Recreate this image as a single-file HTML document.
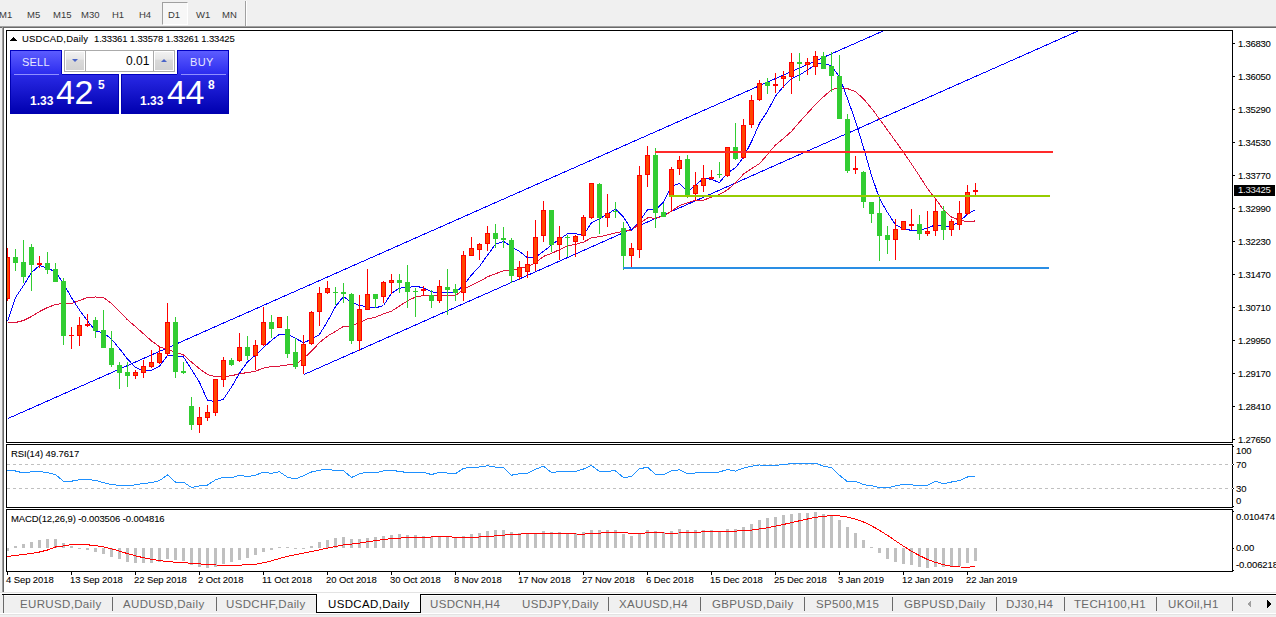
<!DOCTYPE html>
<html><head><meta charset="utf-8"><style>
html,body{margin:0;padding:0;}
body{width:1276px;height:617px;overflow:hidden;position:relative;background:#f0f0f0;font-family:"Liberation Sans",sans-serif;}
.t{position:absolute;font-size:10px;line-height:12px;white-space:nowrap;color:#000;letter-spacing:-0.3px;-webkit-text-stroke:0.08px #000}
.tb{position:absolute;top:7.5px;font-size:9.5px;letter-spacing:0.3px;letter-spacing:0px;line-height:14px;color:#3a3a3a;white-space:nowrap}
.tab{position:absolute;top:597px;font-size:11.5px;letter-spacing:0.35px;line-height:15px;color:#6a6a6a;white-space:nowrap}
.sep{position:absolute;top:597px;width:1px;height:14px;background:#6a6a6a}
</style></head><body>
<div style="position:absolute;left:162px;top:2px;width:24px;height:21px;border-left:1px solid #a0a0a0;border-top:1px solid #a0a0a0;border-right:1px solid #fff;border-bottom:1px solid #fff;background:#f7f7f7"></div><div class="tb" style="left:-1px">M1</div><div class="tb" style="left:27px">M5</div><div class="tb" style="left:53px">M15</div><div class="tb" style="left:81px">M30</div><div class="tb" style="left:112px">H1</div><div class="tb" style="left:139px">H4</div><div class="tb" style="left:168px">D1</div><div class="tb" style="left:196px">W1</div><div class="tb" style="left:222px">MN</div><div style="position:absolute;left:245px;top:1px;width:1px;height:25px;background:#a0a0a0"></div><div style="position:absolute;left:246px;top:1px;width:1px;height:25px;background:#fff"></div><div style="position:absolute;left:0;top:26px;width:1276px;height:1px;background:#a0a0a0"></div><div style="position:absolute;left:0;top:27px;width:1276px;height:1px;background:#696969"></div><div style="position:absolute;left:4px;top:28px;width:1272px;height:564px;background:#fff"></div><div style="position:absolute;left:2px;top:26px;width:1px;height:566px;background:#a0a0a0"></div><div style="position:absolute;left:3px;top:27px;width:1px;height:565px;background:#696969"></div><div style="position:absolute;left:0;top:592px;width:1276px;height:1px;background:#e3e3e3"></div><div style="position:absolute;left:0;top:593px;width:1276px;height:1px;background:#fff"></div><svg width="1276" height="617" style="position:absolute;left:0;top:0" shape-rendering="crispEdges"><rect x="6.5" y="30.5" width="1226" height="412" fill="#fff" stroke="#000" stroke-width="1"/><rect x="6.5" y="444.5" width="1226" height="63" fill="#fff" stroke="#000" stroke-width="1"/><rect x="6.5" y="509.5" width="1226" height="62" fill="#fff" stroke="#000" stroke-width="1"/><clipPath id="cm"><rect x="7" y="31" width="1225" height="411"/></clipPath><clipPath id="cr"><rect x="7" y="445" width="1225" height="62"/></clipPath><clipPath id="cd"><rect x="7" y="510" width="1225" height="61"/></clipPath><g clip-path="url(#cm)"><line x1="8" y1="418.5" x2="883" y2="31" stroke="#0000ff" stroke-width="1"/><line x1="304" y1="374.5" x2="1078" y2="31" stroke="#0000ff" stroke-width="1"/><polyline fill="none" stroke="#dc143c" stroke-width="1" points="7.5,322.5 15.5,322.5 23.5,320.5 31.5,316.5 39.5,311.5 47.5,307.5 55.5,304.5 63.5,303.5 71.5,303.5 79.5,300.5 87.5,297.5 95.5,297 103.5,297.5 111.5,303.4 119.5,311.7 127.5,319.8 135.5,326.6 143.5,333.8 151.5,340.9 159.5,346.8 167.5,349.6 175.5,352.2 183.5,354.9 191.5,362.1 199.5,368.7 207.5,374.5 215.5,376.7 223.5,376.4 231.5,375.8 239.5,373.7 247.5,372.6 255.5,371.1 263.5,368.2 271.5,366.5 279.5,366.1 287.5,364.9 295.5,364.4 303.5,358.6 311.5,351.1 319.5,342.6 327.5,336.1 335.5,331.4 343.5,326.3 351.5,325.9 359.5,322.5 367.5,318.9 375.5,317.2 383.5,313.9 391.5,311.2 399.5,306.1 407.5,300.8 415.5,297.1 423.5,295.4 431.5,296 439.5,295.9 447.5,295.6 455.5,295.6 463.5,289.4 471.5,285.1 479.5,281.5 487.5,276.8 495.5,273.7 503.5,270.9 511.5,270.4 519.5,268.6 527.5,266.6 535.5,262.9 543.5,256.4 551.5,253.4 559.5,249.6 567.5,245.7 575.5,244.4 583.5,242.1 591.5,237.8 599.5,236.7 607.5,234.9 615.5,232.9 623.5,231.4 631.5,230.1 639.5,223.7 647.5,217.9 655.5,218.1 663.5,216.1 671.5,211.2 679.5,205.6 687.5,202.7 695.5,200.4 703.5,200.1 711.5,197.1 719.5,194.4 727.5,189.8 735.5,182.9 743.5,174.1 751.5,168.7 759.5,163.6 767.5,154.5 775.5,145 783.5,138.4 791.5,131.4 799.5,122 807.5,113.2 815.5,104.5 823.5,96.8 831.5,89.7 839.5,87.7 847.5,88.6 855.5,91.6 863.5,98.9 871.5,108.3 879.5,119 887.5,130.1 895.5,141.1 903.5,152.4 911.5,163.9 919.5,176.1 927.5,188.6 935.5,198.8 943.5,209.8 951.5,217.1 959.5,220.1 967.5,221.8 975.5,220.9"/><polyline fill="none" stroke="#0000ff" stroke-width="1" points="7.5,321.5 15.5,297.5 23.5,285.5 31.5,272.5 39.5,265.5 47.5,268.1 55.5,271.9 63.5,283.7 71.5,297.7 79.5,310.1 87.5,320.9 95.5,330.7 103.5,333.1 111.5,339.1 119.5,348.7 127.5,359.1 135.5,367.3 143.5,370.9 151.5,370.3 159.5,366.3 167.5,355.5 175.5,355.5 183.5,356.9 191.5,369.5 199.5,382.3 207.5,400.3 215.5,401.7 223.5,399.1 231.5,387.1 239.5,373.1 247.5,361.9 255.5,355.1 263.5,347.5 271.5,340.3 279.5,334.3 287.5,333.9 295.5,338.3 303.5,342.7 311.5,339.3 319.5,334.5 327.5,321.3 335.5,306.5 343.5,296.5 351.5,302.3 359.5,305.5 367.5,306.7 375.5,307.9 383.5,305.5 391.5,293.3 399.5,288.1 407.5,287.7 415.5,286.3 423.5,287.7 431.5,291.9 439.5,292.5 447.5,292.1 455.5,292.3 463.5,285.5 471.5,274.9 479.5,266.5 487.5,255.1 495.5,244.3 503.5,241.3 511.5,246.9 519.5,251.5 527.5,257.7 535.5,257.3 543.5,251.3 551.5,245.1 559.5,239.1 567.5,233.9 575.5,233.7 583.5,235.1 591.5,222.7 599.5,218.9 607.5,213.9 615.5,209.1 623.5,216.9 631.5,229.9 639.5,221.3 647.5,209.7 655.5,209.9 663.5,202.1 671.5,186.3 679.5,183.3 687.5,191.3 695.5,185.7 703.5,177.9 711.5,179.5 719.5,182.5 727.5,172.9 735.5,167.7 743.5,157.1 751.5,141.7 759.5,123.3 767.5,111.1 775.5,96.1 783.5,86.3 791.5,78.7 799.5,74.9 807.5,70.1 815.5,64.5 823.5,63.1 831.5,65.9 839.5,76.9 847.5,98.7 855.5,121.1 863.5,147.7 871.5,175.3 879.5,198.7 887.5,212.5 895.5,224.7 903.5,228.5 911.5,230.5 919.5,230.1 927.5,228.3 935.5,224.7 943.5,226.5 951.5,225.9 959.5,221.7 967.5,213.9 975.5,209.7"/><rect x="7" y="248" width="1" height="53" fill="#ff0000"/><rect x="5" y="257" width="5" height="42" fill="#ff0000"/><rect x="6" y="258" width="3" height="40" fill="#ff4500"/><rect x="15" y="249" width="1" height="22" fill="#32cd32"/><rect x="13" y="257" width="5" height="6" fill="#32cd32"/><rect x="23" y="240" width="1" height="43" fill="#32cd32"/><rect x="21" y="262" width="5" height="15" fill="#32cd32"/><rect x="31" y="244" width="1" height="47" fill="#32cd32"/><rect x="29" y="247" width="5" height="18" fill="#32cd32"/><rect x="39" y="256" width="1" height="12" fill="#ff0000"/><rect x="37" y="263" width="5" height="2" fill="#ff0000"/><rect x="47" y="252" width="1" height="22" fill="#32cd32"/><rect x="45" y="263" width="5" height="7" fill="#32cd32"/><rect x="55" y="263" width="1" height="19" fill="#32cd32"/><rect x="53" y="269" width="5" height="13" fill="#32cd32"/><rect x="63" y="278" width="1" height="67" fill="#32cd32"/><rect x="61" y="281" width="5" height="55" fill="#32cd32"/><rect x="71" y="327" width="1" height="22" fill="#ff0000"/><rect x="69" y="335" width="5" height="1" fill="#ff0000"/><rect x="79" y="317" width="1" height="29" fill="#ff0000"/><rect x="77" y="325" width="5" height="11" fill="#ff0000"/><rect x="78" y="326" width="3" height="9" fill="#ff4500"/><rect x="87" y="314" width="1" height="13" fill="#ff0000"/><rect x="85" y="324" width="5" height="2" fill="#ff0000"/><rect x="95" y="317" width="1" height="21" fill="#32cd32"/><rect x="93" y="320" width="5" height="11" fill="#32cd32"/><rect x="103" y="310" width="1" height="38" fill="#32cd32"/><rect x="101" y="330" width="5" height="18" fill="#32cd32"/><rect x="111" y="331" width="1" height="36" fill="#32cd32"/><rect x="109" y="348" width="5" height="17" fill="#32cd32"/><rect x="119" y="362" width="1" height="27" fill="#32cd32"/><rect x="117" y="365" width="5" height="8" fill="#32cd32"/><rect x="127" y="362" width="1" height="25" fill="#32cd32"/><rect x="125" y="372" width="5" height="4" fill="#32cd32"/><rect x="135" y="370" width="1" height="9" fill="#ff0000"/><rect x="133" y="372" width="5" height="4" fill="#ff0000"/><rect x="134" y="373" width="3" height="2" fill="#ff4500"/><rect x="143" y="360" width="1" height="18" fill="#ff0000"/><rect x="141" y="366" width="5" height="7" fill="#ff0000"/><rect x="142" y="367" width="3" height="5" fill="#ff4500"/><rect x="151" y="350" width="1" height="18" fill="#ff0000"/><rect x="149" y="362" width="5" height="5" fill="#ff0000"/><rect x="150" y="363" width="3" height="3" fill="#ff4500"/><rect x="159" y="346" width="1" height="18" fill="#ff0000"/><rect x="157" y="353" width="5" height="10" fill="#ff0000"/><rect x="158" y="354" width="3" height="8" fill="#ff4500"/><rect x="167" y="303" width="1" height="53" fill="#ff0000"/><rect x="165" y="322" width="5" height="32" fill="#ff0000"/><rect x="166" y="323" width="3" height="30" fill="#ff4500"/><rect x="175" y="317" width="1" height="61" fill="#32cd32"/><rect x="173" y="322" width="5" height="50" fill="#32cd32"/><rect x="183" y="362" width="1" height="12" fill="#32cd32"/><rect x="181" y="371" width="5" height="2" fill="#32cd32"/><rect x="191" y="397" width="1" height="33" fill="#32cd32"/><rect x="189" y="406" width="5" height="19" fill="#32cd32"/><rect x="199" y="407" width="1" height="26" fill="#ff0000"/><rect x="197" y="417" width="5" height="8" fill="#ff0000"/><rect x="198" y="418" width="3" height="6" fill="#ff4500"/><rect x="207" y="405" width="1" height="16" fill="#ff0000"/><rect x="205" y="412" width="5" height="6" fill="#ff0000"/><rect x="206" y="413" width="3" height="4" fill="#ff4500"/><rect x="215" y="379" width="1" height="37" fill="#ff0000"/><rect x="213" y="379" width="5" height="34" fill="#ff0000"/><rect x="214" y="380" width="3" height="32" fill="#ff4500"/><rect x="223" y="357" width="1" height="30" fill="#ff0000"/><rect x="221" y="360" width="5" height="20" fill="#ff0000"/><rect x="222" y="361" width="3" height="18" fill="#ff4500"/><rect x="231" y="358" width="1" height="8" fill="#32cd32"/><rect x="229" y="360" width="5" height="5" fill="#32cd32"/><rect x="239" y="333" width="1" height="29" fill="#ff0000"/><rect x="237" y="347" width="5" height="14" fill="#ff0000"/><rect x="238" y="348" width="3" height="12" fill="#ff4500"/><rect x="247" y="336" width="1" height="24" fill="#32cd32"/><rect x="245" y="347" width="5" height="9" fill="#32cd32"/><rect x="255" y="340" width="1" height="30" fill="#ff0000"/><rect x="253" y="345" width="5" height="11" fill="#ff0000"/><rect x="254" y="346" width="3" height="9" fill="#ff4500"/><rect x="263" y="307" width="1" height="39" fill="#ff0000"/><rect x="261" y="322" width="5" height="23" fill="#ff0000"/><rect x="262" y="323" width="3" height="21" fill="#ff4500"/><rect x="271" y="315" width="1" height="23" fill="#32cd32"/><rect x="269" y="322" width="5" height="7" fill="#32cd32"/><rect x="279" y="317" width="1" height="11" fill="#ff0000"/><rect x="277" y="317" width="5" height="11" fill="#ff0000"/><rect x="278" y="318" width="3" height="9" fill="#ff4500"/><rect x="287" y="316" width="1" height="42" fill="#32cd32"/><rect x="285" y="329" width="5" height="25" fill="#32cd32"/><rect x="295" y="338" width="1" height="31" fill="#32cd32"/><rect x="293" y="352" width="5" height="15" fill="#32cd32"/><rect x="303" y="335" width="1" height="39" fill="#ff0000"/><rect x="301" y="344" width="5" height="22" fill="#ff0000"/><rect x="302" y="345" width="3" height="20" fill="#ff4500"/><rect x="311" y="311" width="1" height="34" fill="#ff0000"/><rect x="309" y="312" width="5" height="32" fill="#ff0000"/><rect x="310" y="313" width="3" height="30" fill="#ff4500"/><rect x="319" y="287" width="1" height="39" fill="#ff0000"/><rect x="317" y="293" width="5" height="19" fill="#ff0000"/><rect x="318" y="294" width="3" height="17" fill="#ff4500"/><rect x="327" y="281" width="1" height="13" fill="#ff0000"/><rect x="325" y="288" width="5" height="5" fill="#ff0000"/><rect x="326" y="289" width="3" height="3" fill="#ff4500"/><rect x="335" y="287" width="1" height="18" fill="#32cd32"/><rect x="333" y="292" width="5" height="1" fill="#32cd32"/><rect x="343" y="283" width="1" height="20" fill="#32cd32"/><rect x="341" y="292" width="5" height="2" fill="#32cd32"/><rect x="351" y="293" width="1" height="51" fill="#32cd32"/><rect x="349" y="294" width="5" height="47" fill="#32cd32"/><rect x="359" y="295" width="1" height="56" fill="#ff0000"/><rect x="357" y="309" width="5" height="32" fill="#ff0000"/><rect x="358" y="310" width="3" height="30" fill="#ff4500"/><rect x="367" y="269" width="1" height="41" fill="#ff0000"/><rect x="365" y="294" width="5" height="16" fill="#ff0000"/><rect x="366" y="295" width="3" height="14" fill="#ff4500"/><rect x="375" y="294" width="1" height="14" fill="#32cd32"/><rect x="373" y="294" width="5" height="5" fill="#32cd32"/><rect x="383" y="281" width="1" height="22" fill="#ff0000"/><rect x="381" y="282" width="5" height="15" fill="#ff0000"/><rect x="382" y="283" width="3" height="13" fill="#ff4500"/><rect x="391" y="274" width="1" height="20" fill="#ff0000"/><rect x="389" y="280" width="5" height="3" fill="#ff0000"/><rect x="390" y="281" width="3" height="1" fill="#ff4500"/><rect x="399" y="274" width="1" height="19" fill="#32cd32"/><rect x="397" y="280" width="5" height="3" fill="#32cd32"/><rect x="407" y="265" width="1" height="43" fill="#32cd32"/><rect x="405" y="282" width="5" height="10" fill="#32cd32"/><rect x="415" y="288" width="1" height="29" fill="#32cd32"/><rect x="413" y="291" width="5" height="1" fill="#32cd32"/><rect x="423" y="286" width="1" height="10" fill="#ff0000"/><rect x="421" y="289" width="5" height="2" fill="#ff0000"/><rect x="431" y="290" width="1" height="18" fill="#32cd32"/><rect x="429" y="295" width="5" height="6" fill="#32cd32"/><rect x="439" y="280" width="1" height="23" fill="#ff0000"/><rect x="437" y="286" width="5" height="15" fill="#ff0000"/><rect x="438" y="287" width="3" height="13" fill="#ff4500"/><rect x="447" y="269" width="1" height="46" fill="#32cd32"/><rect x="445" y="287" width="5" height="3" fill="#32cd32"/><rect x="455" y="284" width="1" height="17" fill="#32cd32"/><rect x="453" y="289" width="5" height="4" fill="#32cd32"/><rect x="463" y="251" width="1" height="50" fill="#ff0000"/><rect x="461" y="255" width="5" height="38" fill="#ff0000"/><rect x="462" y="256" width="3" height="36" fill="#ff4500"/><rect x="471" y="237" width="1" height="19" fill="#ff0000"/><rect x="469" y="248" width="5" height="8" fill="#ff0000"/><rect x="470" y="249" width="3" height="6" fill="#ff4500"/><rect x="479" y="243" width="1" height="17" fill="#ff0000"/><rect x="477" y="244" width="5" height="6" fill="#ff0000"/><rect x="478" y="245" width="3" height="4" fill="#ff4500"/><rect x="487" y="226" width="1" height="25" fill="#ff0000"/><rect x="485" y="233" width="5" height="11" fill="#ff0000"/><rect x="486" y="234" width="3" height="9" fill="#ff4500"/><rect x="495" y="224" width="1" height="24" fill="#32cd32"/><rect x="493" y="233" width="5" height="6" fill="#32cd32"/><rect x="503" y="227" width="1" height="21" fill="#32cd32"/><rect x="501" y="238" width="5" height="2" fill="#32cd32"/><rect x="511" y="238" width="1" height="45" fill="#32cd32"/><rect x="509" y="240" width="5" height="36" fill="#32cd32"/><rect x="519" y="261" width="1" height="19" fill="#ff0000"/><rect x="517" y="267" width="5" height="10" fill="#ff0000"/><rect x="518" y="268" width="3" height="8" fill="#ff4500"/><rect x="527" y="251" width="1" height="27" fill="#ff0000"/><rect x="525" y="264" width="5" height="8" fill="#ff0000"/><rect x="526" y="265" width="3" height="6" fill="#ff4500"/><rect x="535" y="220" width="1" height="51" fill="#ff0000"/><rect x="533" y="237" width="5" height="27" fill="#ff0000"/><rect x="534" y="238" width="3" height="25" fill="#ff4500"/><rect x="543" y="201" width="1" height="41" fill="#ff0000"/><rect x="541" y="210" width="5" height="26" fill="#ff0000"/><rect x="542" y="211" width="3" height="24" fill="#ff4500"/><rect x="551" y="210" width="1" height="42" fill="#32cd32"/><rect x="549" y="210" width="5" height="35" fill="#32cd32"/><rect x="559" y="226" width="1" height="34" fill="#ff0000"/><rect x="557" y="237" width="5" height="8" fill="#ff0000"/><rect x="558" y="238" width="3" height="6" fill="#ff4500"/><rect x="567" y="235" width="1" height="22" fill="#32cd32"/><rect x="565" y="237" width="5" height="1" fill="#32cd32"/><rect x="575" y="235" width="1" height="22" fill="#ff0000"/><rect x="573" y="236" width="5" height="6" fill="#ff0000"/><rect x="574" y="237" width="3" height="4" fill="#ff4500"/><rect x="583" y="215" width="1" height="25" fill="#ff0000"/><rect x="581" y="217" width="5" height="19" fill="#ff0000"/><rect x="582" y="218" width="3" height="17" fill="#ff4500"/><rect x="591" y="183" width="1" height="36" fill="#ff0000"/><rect x="589" y="183" width="5" height="35" fill="#ff0000"/><rect x="590" y="184" width="3" height="33" fill="#ff4500"/><rect x="599" y="183" width="1" height="51" fill="#32cd32"/><rect x="597" y="184" width="5" height="34" fill="#32cd32"/><rect x="607" y="194" width="1" height="33" fill="#ff0000"/><rect x="605" y="213" width="5" height="5" fill="#ff0000"/><rect x="606" y="214" width="3" height="3" fill="#ff4500"/><rect x="615" y="202" width="1" height="16" fill="#32cd32"/><rect x="613" y="211" width="5" height="1" fill="#32cd32"/><rect x="623" y="222" width="1" height="48" fill="#32cd32"/><rect x="621" y="228" width="5" height="28" fill="#32cd32"/><rect x="631" y="243" width="1" height="24" fill="#ff0000"/><rect x="629" y="248" width="5" height="8" fill="#ff0000"/><rect x="630" y="249" width="3" height="6" fill="#ff4500"/><rect x="639" y="166" width="1" height="92" fill="#ff0000"/><rect x="637" y="175" width="5" height="75" fill="#ff0000"/><rect x="638" y="176" width="3" height="73" fill="#ff4500"/><rect x="647" y="146" width="1" height="41" fill="#ff0000"/><rect x="645" y="155" width="5" height="20" fill="#ff0000"/><rect x="646" y="156" width="3" height="18" fill="#ff4500"/><rect x="655" y="148" width="1" height="80" fill="#32cd32"/><rect x="653" y="155" width="5" height="58" fill="#32cd32"/><rect x="663" y="203" width="1" height="14" fill="#32cd32"/><rect x="661" y="212" width="5" height="5" fill="#32cd32"/><rect x="671" y="167" width="1" height="44" fill="#ff0000"/><rect x="669" y="169" width="5" height="27" fill="#ff0000"/><rect x="670" y="170" width="3" height="25" fill="#ff4500"/><rect x="679" y="156" width="1" height="19" fill="#ff0000"/><rect x="677" y="160" width="5" height="9" fill="#ff0000"/><rect x="678" y="161" width="3" height="7" fill="#ff4500"/><rect x="687" y="155" width="1" height="43" fill="#32cd32"/><rect x="685" y="159" width="5" height="36" fill="#32cd32"/><rect x="695" y="172" width="1" height="29" fill="#ff0000"/><rect x="693" y="185" width="5" height="9" fill="#ff0000"/><rect x="694" y="186" width="3" height="7" fill="#ff4500"/><rect x="703" y="165" width="1" height="27" fill="#ff0000"/><rect x="701" y="178" width="5" height="8" fill="#ff0000"/><rect x="702" y="179" width="3" height="6" fill="#ff4500"/><rect x="711" y="170" width="1" height="10" fill="#ff0000"/><rect x="709" y="177" width="5" height="2" fill="#ff0000"/><rect x="719" y="162" width="1" height="16" fill="#32cd32"/><rect x="717" y="174" width="5" height="1" fill="#32cd32"/><rect x="727" y="147" width="1" height="30" fill="#ff0000"/><rect x="725" y="147" width="5" height="29" fill="#ff0000"/><rect x="726" y="148" width="3" height="27" fill="#ff4500"/><rect x="735" y="123" width="1" height="37" fill="#32cd32"/><rect x="733" y="147" width="5" height="12" fill="#32cd32"/><rect x="743" y="119" width="1" height="40" fill="#ff0000"/><rect x="741" y="125" width="5" height="33" fill="#ff0000"/><rect x="742" y="126" width="3" height="31" fill="#ff4500"/><rect x="751" y="95" width="1" height="33" fill="#ff0000"/><rect x="749" y="100" width="5" height="25" fill="#ff0000"/><rect x="750" y="101" width="3" height="23" fill="#ff4500"/><rect x="759" y="80" width="1" height="21" fill="#ff0000"/><rect x="757" y="83" width="5" height="17" fill="#ff0000"/><rect x="758" y="84" width="3" height="15" fill="#ff4500"/><rect x="767" y="78" width="1" height="16" fill="#32cd32"/><rect x="765" y="82" width="5" height="4" fill="#32cd32"/><rect x="775" y="73" width="1" height="20" fill="#ff0000"/><rect x="773" y="84" width="5" height="2" fill="#ff0000"/><rect x="783" y="71" width="1" height="17" fill="#ff0000"/><rect x="781" y="76" width="5" height="3" fill="#ff0000"/><rect x="782" y="77" width="3" height="1" fill="#ff4500"/><rect x="791" y="53" width="1" height="41" fill="#ff0000"/><rect x="789" y="62" width="5" height="15" fill="#ff0000"/><rect x="790" y="63" width="3" height="13" fill="#ff4500"/><rect x="799" y="53" width="1" height="28" fill="#32cd32"/><rect x="797" y="62" width="5" height="2" fill="#32cd32"/><rect x="807" y="58" width="1" height="17" fill="#ff0000"/><rect x="805" y="62" width="5" height="3" fill="#ff0000"/><rect x="806" y="63" width="3" height="1" fill="#ff4500"/><rect x="815" y="51" width="1" height="24" fill="#ff0000"/><rect x="813" y="56" width="5" height="11" fill="#ff0000"/><rect x="814" y="57" width="3" height="9" fill="#ff4500"/><rect x="823" y="52" width="1" height="17" fill="#32cd32"/><rect x="821" y="56" width="5" height="13" fill="#32cd32"/><rect x="831" y="52" width="1" height="40" fill="#32cd32"/><rect x="829" y="66" width="5" height="10" fill="#32cd32"/><rect x="839" y="55" width="1" height="64" fill="#32cd32"/><rect x="837" y="76" width="5" height="43" fill="#32cd32"/><rect x="847" y="114" width="1" height="59" fill="#32cd32"/><rect x="845" y="119" width="5" height="52" fill="#32cd32"/><rect x="855" y="156" width="1" height="18" fill="#ff0000"/><rect x="853" y="168" width="5" height="2" fill="#ff0000"/><rect x="863" y="171" width="1" height="37" fill="#32cd32"/><rect x="861" y="172" width="5" height="30" fill="#32cd32"/><rect x="871" y="202" width="1" height="21" fill="#32cd32"/><rect x="869" y="202" width="5" height="12" fill="#32cd32"/><rect x="879" y="198" width="1" height="63" fill="#32cd32"/><rect x="877" y="213" width="5" height="23" fill="#32cd32"/><rect x="887" y="226" width="1" height="28" fill="#32cd32"/><rect x="885" y="235" width="5" height="5" fill="#32cd32"/><rect x="895" y="219" width="1" height="41" fill="#ff0000"/><rect x="893" y="229" width="5" height="11" fill="#ff0000"/><rect x="894" y="230" width="3" height="9" fill="#ff4500"/><rect x="903" y="221" width="1" height="9" fill="#ff0000"/><rect x="901" y="221" width="5" height="9" fill="#ff0000"/><rect x="902" y="222" width="3" height="7" fill="#ff4500"/><rect x="911" y="209" width="1" height="21" fill="#ff0000"/><rect x="909" y="224" width="5" height="2" fill="#ff0000"/><rect x="919" y="215" width="1" height="25" fill="#32cd32"/><rect x="917" y="224" width="5" height="10" fill="#32cd32"/><rect x="927" y="211" width="1" height="25" fill="#ff0000"/><rect x="925" y="231" width="5" height="3" fill="#ff0000"/><rect x="926" y="232" width="3" height="1" fill="#ff4500"/><rect x="935" y="200" width="1" height="36" fill="#ff0000"/><rect x="933" y="211" width="5" height="20" fill="#ff0000"/><rect x="934" y="212" width="3" height="18" fill="#ff4500"/><rect x="943" y="206" width="1" height="34" fill="#32cd32"/><rect x="941" y="211" width="5" height="19" fill="#32cd32"/><rect x="951" y="219" width="1" height="17" fill="#ff0000"/><rect x="949" y="221" width="5" height="9" fill="#ff0000"/><rect x="950" y="222" width="3" height="7" fill="#ff4500"/><rect x="959" y="201" width="1" height="29" fill="#ff0000"/><rect x="957" y="213" width="5" height="12" fill="#ff0000"/><rect x="958" y="214" width="3" height="10" fill="#ff4500"/><rect x="967" y="185" width="1" height="30" fill="#ff0000"/><rect x="965" y="192" width="5" height="22" fill="#ff0000"/><rect x="966" y="193" width="3" height="20" fill="#ff4500"/><rect x="975" y="183" width="1" height="14" fill="#ff0000"/><rect x="973" y="190" width="5" height="2" fill="#ff0000"/><rect x="655" y="151" width="398" height="2" fill="#ff2a2a"/><rect x="669" y="195" width="381" height="2" fill="#96cc00"/><rect x="623" y="267" width="426" height="2" fill="#2a8ee4"/></g><g clip-path="url(#cr)"><line x1="7" y1="464.5" x2="1232" y2="464.5" stroke="#c0c0c0" stroke-dasharray="3,3"/><line x1="7" y1="488.5" x2="1232" y2="488.5" stroke="#c0c0c0" stroke-dasharray="3,3"/><polyline fill="none" stroke="#1e90ff" stroke-width="1" points="7.5,470.2 15.5,471 23.5,473 31.5,471.7 39.5,471.5 47.5,472.6 55.5,474.5 63.5,481.3 71.5,481.2 79.5,479.7 87.5,479.5 95.5,480.4 103.5,482.6 111.5,484.5 119.5,485.4 127.5,485.7 135.5,484.8 143.5,483.5 151.5,482.6 159.5,480.6 167.5,474.9 175.5,482.1 183.5,482.2 191.5,487.4 199.5,486 207.5,485.1 215.5,479.8 223.5,477.1 231.5,477.8 239.5,475.3 247.5,476.6 255.5,475.1 263.5,472.2 271.5,473.3 279.5,471.8 287.5,477.2 295.5,478.9 303.5,475.7 311.5,472 319.5,470.1 327.5,469.6 335.5,470.4 343.5,470.6 351.5,477.5 359.5,473.7 367.5,472.1 375.5,472.8 383.5,470.9 391.5,470.7 399.5,471.2 407.5,472.8 415.5,472.8 423.5,472.3 431.5,474.6 439.5,472.3 447.5,473.1 455.5,473.7 463.5,468.3 471.5,467.4 479.5,467 487.5,465.7 495.5,467.1 503.5,467.4 511.5,475.2 519.5,473.7 527.5,473.2 535.5,469.3 543.5,466.1 551.5,472.6 559.5,471.6 567.5,471.8 575.5,471.5 583.5,469 591.5,465.4 599.5,471.6 607.5,471.1 615.5,470.9 623.5,477.6 631.5,476.5 639.5,468.8 647.5,467.2 655.5,474.3 663.5,474.7 671.5,470.6 679.5,469.9 687.5,473.8 695.5,473 703.5,472.3 711.5,472.2 719.5,472 727.5,469.4 735.5,471.1 743.5,468.1 751.5,466.2 759.5,465 767.5,465.4 775.5,465.3 783.5,464.6 791.5,463.5 799.5,463.9 807.5,463.8 815.5,463.2 823.5,466.1 831.5,467.6 839.5,475.3 847.5,481.7 855.5,481.3 863.5,484.6 871.5,485.7 879.5,487.5 887.5,487.8 895.5,485.8 903.5,484.4 911.5,484.8 919.5,485.8 927.5,485.2 935.5,481.3 943.5,483.7 951.5,482 959.5,480.5 967.5,477 975.5,476.7"/></g><g clip-path="url(#cd)"><rect x="6" y="548" width="3" height="3" fill="#c0c0c0"/><rect x="14" y="546" width="3" height="2" fill="#c0c0c0"/><rect x="22" y="544" width="3" height="4" fill="#c0c0c0"/><rect x="30" y="542" width="3" height="6" fill="#c0c0c0"/><rect x="38" y="540" width="3" height="8" fill="#c0c0c0"/><rect x="46" y="539" width="3" height="9" fill="#c0c0c0"/><rect x="54" y="539" width="3" height="9" fill="#c0c0c0"/><rect x="62" y="543" width="3" height="5" fill="#c0c0c0"/><rect x="70" y="546" width="3" height="2" fill="#c0c0c0"/><rect x="78" y="548" width="3" height="1" fill="#c0c0c0"/><rect x="86" y="548" width="3" height="2" fill="#c0c0c0"/><rect x="94" y="548" width="3" height="4" fill="#c0c0c0"/><rect x="102" y="548" width="3" height="6" fill="#c0c0c0"/><rect x="110" y="548" width="3" height="9" fill="#c0c0c0"/><rect x="118" y="548" width="3" height="11" fill="#c0c0c0"/><rect x="126" y="548" width="3" height="14" fill="#c0c0c0"/><rect x="134" y="548" width="3" height="15" fill="#c0c0c0"/><rect x="142" y="548" width="3" height="15" fill="#c0c0c0"/><rect x="150" y="548" width="3" height="15" fill="#c0c0c0"/><rect x="158" y="548" width="3" height="14" fill="#c0c0c0"/><rect x="166" y="548" width="3" height="11" fill="#c0c0c0"/><rect x="174" y="548" width="3" height="12" fill="#c0c0c0"/><rect x="182" y="548" width="3" height="13" fill="#c0c0c0"/><rect x="190" y="548" width="3" height="17" fill="#c0c0c0"/><rect x="198" y="548" width="3" height="19" fill="#c0c0c0"/><rect x="206" y="548" width="3" height="20" fill="#c0c0c0"/><rect x="214" y="548" width="3" height="19" fill="#c0c0c0"/><rect x="222" y="548" width="3" height="16" fill="#c0c0c0"/><rect x="230" y="548" width="3" height="14" fill="#c0c0c0"/><rect x="238" y="548" width="3" height="12" fill="#c0c0c0"/><rect x="246" y="548" width="3" height="10" fill="#c0c0c0"/><rect x="254" y="548" width="3" height="7" fill="#c0c0c0"/><rect x="262" y="548" width="3" height="4" fill="#c0c0c0"/><rect x="270" y="548" width="3" height="2" fill="#c0c0c0"/><rect x="278" y="547" width="3" height="1" fill="#c0c0c0"/><rect x="286" y="547" width="3" height="1" fill="#c0c0c0"/><rect x="294" y="548" width="3" height="1" fill="#c0c0c0"/><rect x="302" y="548" width="3" height="1" fill="#c0c0c0"/><rect x="310" y="546" width="3" height="2" fill="#c0c0c0"/><rect x="318" y="542" width="3" height="6" fill="#c0c0c0"/><rect x="326" y="540" width="3" height="8" fill="#c0c0c0"/><rect x="334" y="538" width="3" height="10" fill="#c0c0c0"/><rect x="342" y="537" width="3" height="11" fill="#c0c0c0"/><rect x="350" y="539" width="3" height="9" fill="#c0c0c0"/><rect x="358" y="539" width="3" height="9" fill="#c0c0c0"/><rect x="366" y="538" width="3" height="10" fill="#c0c0c0"/><rect x="374" y="537" width="3" height="11" fill="#c0c0c0"/><rect x="382" y="536" width="3" height="12" fill="#c0c0c0"/><rect x="390" y="535" width="3" height="13" fill="#c0c0c0"/><rect x="398" y="534" width="3" height="14" fill="#c0c0c0"/><rect x="406" y="535" width="3" height="13" fill="#c0c0c0"/><rect x="414" y="535" width="3" height="13" fill="#c0c0c0"/><rect x="422" y="536" width="3" height="12" fill="#c0c0c0"/><rect x="430" y="537" width="3" height="11" fill="#c0c0c0"/><rect x="438" y="537" width="3" height="11" fill="#c0c0c0"/><rect x="446" y="537" width="3" height="11" fill="#c0c0c0"/><rect x="454" y="538" width="3" height="10" fill="#c0c0c0"/><rect x="462" y="536" width="3" height="12" fill="#c0c0c0"/><rect x="470" y="534" width="3" height="14" fill="#c0c0c0"/><rect x="478" y="533" width="3" height="15" fill="#c0c0c0"/><rect x="486" y="531" width="3" height="17" fill="#c0c0c0"/><rect x="494" y="530" width="3" height="18" fill="#c0c0c0"/><rect x="502" y="530" width="3" height="18" fill="#c0c0c0"/><rect x="510" y="532" width="3" height="16" fill="#c0c0c0"/><rect x="518" y="533" width="3" height="15" fill="#c0c0c0"/><rect x="526" y="534" width="3" height="14" fill="#c0c0c0"/><rect x="534" y="534" width="3" height="14" fill="#c0c0c0"/><rect x="542" y="531" width="3" height="17" fill="#c0c0c0"/><rect x="550" y="532" width="3" height="16" fill="#c0c0c0"/><rect x="558" y="532" width="3" height="16" fill="#c0c0c0"/><rect x="566" y="533" width="3" height="15" fill="#c0c0c0"/><rect x="574" y="533" width="3" height="15" fill="#c0c0c0"/><rect x="582" y="532" width="3" height="16" fill="#c0c0c0"/><rect x="590" y="530" width="3" height="18" fill="#c0c0c0"/><rect x="598" y="530" width="3" height="18" fill="#c0c0c0"/><rect x="606" y="530" width="3" height="18" fill="#c0c0c0"/><rect x="614" y="530" width="3" height="18" fill="#c0c0c0"/><rect x="622" y="534" width="3" height="14" fill="#c0c0c0"/><rect x="630" y="536" width="3" height="12" fill="#c0c0c0"/><rect x="638" y="533" width="3" height="15" fill="#c0c0c0"/><rect x="646" y="530" width="3" height="18" fill="#c0c0c0"/><rect x="654" y="531" width="3" height="17" fill="#c0c0c0"/><rect x="662" y="532" width="3" height="16" fill="#c0c0c0"/><rect x="670" y="531" width="3" height="17" fill="#c0c0c0"/><rect x="678" y="529" width="3" height="19" fill="#c0c0c0"/><rect x="686" y="530" width="3" height="18" fill="#c0c0c0"/><rect x="694" y="530" width="3" height="18" fill="#c0c0c0"/><rect x="702" y="530" width="3" height="18" fill="#c0c0c0"/><rect x="710" y="530" width="3" height="18" fill="#c0c0c0"/><rect x="718" y="531" width="3" height="17" fill="#c0c0c0"/><rect x="726" y="529" width="3" height="19" fill="#c0c0c0"/><rect x="734" y="529" width="3" height="19" fill="#c0c0c0"/><rect x="742" y="527" width="3" height="21" fill="#c0c0c0"/><rect x="750" y="524" width="3" height="24" fill="#c0c0c0"/><rect x="758" y="520" width="3" height="28" fill="#c0c0c0"/><rect x="766" y="518" width="3" height="30" fill="#c0c0c0"/><rect x="774" y="517" width="3" height="31" fill="#c0c0c0"/><rect x="782" y="515" width="3" height="33" fill="#c0c0c0"/><rect x="790" y="514" width="3" height="34" fill="#c0c0c0"/><rect x="798" y="513" width="3" height="35" fill="#c0c0c0"/><rect x="806" y="513" width="3" height="35" fill="#c0c0c0"/><rect x="814" y="512" width="3" height="36" fill="#c0c0c0"/><rect x="822" y="514" width="3" height="34" fill="#c0c0c0"/><rect x="830" y="515" width="3" height="33" fill="#c0c0c0"/><rect x="838" y="520" width="3" height="28" fill="#c0c0c0"/><rect x="846" y="527" width="3" height="21" fill="#c0c0c0"/><rect x="854" y="533" width="3" height="15" fill="#c0c0c0"/><rect x="862" y="540" width="3" height="8" fill="#c0c0c0"/><rect x="870" y="547" width="3" height="1" fill="#c0c0c0"/><rect x="878" y="548" width="3" height="5" fill="#c0c0c0"/><rect x="886" y="548" width="3" height="11" fill="#c0c0c0"/><rect x="894" y="548" width="3" height="14" fill="#c0c0c0"/><rect x="902" y="548" width="3" height="16" fill="#c0c0c0"/><rect x="910" y="548" width="3" height="17" fill="#c0c0c0"/><rect x="918" y="548" width="3" height="19" fill="#c0c0c0"/><rect x="926" y="548" width="3" height="20" fill="#c0c0c0"/><rect x="934" y="548" width="3" height="19" fill="#c0c0c0"/><rect x="942" y="548" width="3" height="19" fill="#c0c0c0"/><rect x="950" y="548" width="3" height="19" fill="#c0c0c0"/><rect x="958" y="548" width="3" height="18" fill="#c0c0c0"/><rect x="966" y="548" width="3" height="15" fill="#c0c0c0"/><rect x="974" y="548" width="3" height="13" fill="#c0c0c0"/><polyline fill="none" stroke="#ff0000" stroke-width="1" points="7.5,556.5 15.5,555.5 23.5,554.5 31.5,553.5 39.5,552.0 47.5,550.0 55.5,547.0 63.5,545.9 71.5,544.5 79.5,544.3 87.5,544.8 95.5,545.6 103.5,546.9 111.5,548.8 119.5,551.1 127.5,553.6 135.5,555.8 143.5,557.7 151.5,559.3 159.5,560.7 167.5,561.5 175.5,562.2 183.5,562.7 191.5,563.3 199.5,563.9 207.5,564.6 215.5,565 223.5,565.1 231.5,565.1 239.5,565.1 247.5,564.8 255.5,564.2 263.5,562.8 271.5,560.8 279.5,558.5 287.5,556.3 295.5,554.6 303.5,553.1 311.5,551.6 319.5,549.9 327.5,548.1 335.5,546.5 343.5,545 351.5,544.1 359.5,543.1 367.5,541.8 375.5,540.6 383.5,539.5 391.5,538.6 399.5,538.1 407.5,537.7 415.5,537.6 423.5,537.2 431.5,537 439.5,536.9 447.5,536.9 455.5,537.1 463.5,537.2 471.5,537.2 479.5,537 487.5,536.5 495.5,535.9 503.5,535.1 511.5,534.5 519.5,534.1 527.5,533.7 535.5,533.5 543.5,533.2 551.5,533.1 559.5,533.3 567.5,533.6 575.5,534 583.5,534.1 591.5,533.6 599.5,533.1 607.5,532.7 615.5,532.6 623.5,532.8 631.5,533.2 639.5,533.3 647.5,532.9 655.5,532.7 663.5,533 671.5,533.1 679.5,533 687.5,532.9 695.5,532.5 703.5,531.8 711.5,531.5 719.5,531.7 727.5,531.5 735.5,531.1 743.5,530.6 751.5,530.1 759.5,529 767.5,527.7 775.5,526.1 783.5,524.5 791.5,522.6 799.5,520.8 807.5,519 815.5,517.4 823.5,516.3 831.5,515.7 839.5,515.9 847.5,517.1 855.5,519.1 863.5,522 871.5,525.8 879.5,530.3 887.5,535.4 895.5,540.8 903.5,546.2 911.5,551.2 919.5,555.6 927.5,559.5 935.5,562.4 943.5,564.7 951.5,566.2 959.5,567 967.5,567.1 975.5,566.8"/></g><rect x="1233" y="43" width="2" height="1" fill="#000"/><rect x="1233" y="76" width="2" height="1" fill="#000"/><rect x="1233" y="109" width="2" height="1" fill="#000"/><rect x="1233" y="142" width="2" height="1" fill="#000"/><rect x="1233" y="175" width="2" height="1" fill="#000"/><rect x="1233" y="208" width="2" height="1" fill="#000"/><rect x="1233" y="241" width="2" height="1" fill="#000"/><rect x="1233" y="274" width="2" height="1" fill="#000"/><rect x="1233" y="307" width="2" height="1" fill="#000"/><rect x="1233" y="340" width="2" height="1" fill="#000"/><rect x="1233" y="373" width="2" height="1" fill="#000"/><rect x="1233" y="406" width="2" height="1" fill="#000"/><rect x="1233" y="439" width="2" height="1" fill="#000"/><rect x="1233" y="446" width="1" height="1" fill="#000"/><rect x="1233" y="464" width="1" height="1" fill="#000"/><rect x="1233" y="488" width="1" height="1" fill="#000"/><rect x="1233" y="506" width="1" height="1" fill="#000"/><rect x="1233" y="511" width="1" height="1" fill="#000"/><rect x="1233" y="548" width="1" height="1" fill="#000"/><rect x="1233" y="570" width="1" height="1" fill="#000"/><rect x="1232" y="464" width="1" height="1" fill="#fff"/><rect x="1232" y="488" width="1" height="1" fill="#fff"/><rect x="7" y="572" width="1" height="3" fill="#000"/><rect x="71" y="572" width="1" height="3" fill="#000"/><rect x="135" y="572" width="1" height="3" fill="#000"/><rect x="199" y="572" width="1" height="3" fill="#000"/><rect x="263" y="572" width="1" height="3" fill="#000"/><rect x="327" y="572" width="1" height="3" fill="#000"/><rect x="391" y="572" width="1" height="3" fill="#000"/><rect x="455" y="572" width="1" height="3" fill="#000"/><rect x="519" y="572" width="1" height="3" fill="#000"/><rect x="583" y="572" width="1" height="3" fill="#000"/><rect x="647" y="572" width="1" height="3" fill="#000"/><rect x="711" y="572" width="1" height="3" fill="#000"/><rect x="775" y="572" width="1" height="3" fill="#000"/><rect x="839" y="572" width="1" height="3" fill="#000"/><rect x="903" y="572" width="1" height="3" fill="#000"/><rect x="967" y="572" width="1" height="3" fill="#000"/><rect x="1234" y="185" width="41" height="11" fill="#000"/></svg><div class="t" style="left:1238px;top:38px;font-size:9.5px;letter-spacing:-0.25px;">1.36830</div><div class="t" style="left:1238px;top:71px;font-size:9.5px;letter-spacing:-0.25px;">1.36050</div><div class="t" style="left:1238px;top:104px;font-size:9.5px;letter-spacing:-0.25px;">1.35290</div><div class="t" style="left:1238px;top:137px;font-size:9.5px;letter-spacing:-0.25px;">1.34530</div><div class="t" style="left:1238px;top:170px;font-size:9.5px;letter-spacing:-0.25px;">1.33770</div><div class="t" style="left:1238px;top:203px;font-size:9.5px;letter-spacing:-0.25px;">1.32990</div><div class="t" style="left:1238px;top:236px;font-size:9.5px;letter-spacing:-0.25px;">1.32230</div><div class="t" style="left:1238px;top:269px;font-size:9.5px;letter-spacing:-0.25px;">1.31470</div><div class="t" style="left:1238px;top:302px;font-size:9.5px;letter-spacing:-0.25px;">1.30710</div><div class="t" style="left:1238px;top:335px;font-size:9.5px;letter-spacing:-0.25px;">1.29950</div><div class="t" style="left:1238px;top:368px;font-size:9.5px;letter-spacing:-0.25px;">1.29170</div><div class="t" style="left:1238px;top:401px;font-size:9.5px;letter-spacing:-0.25px;">1.28410</div><div class="t" style="left:1238px;top:434px;font-size:9.5px;letter-spacing:-0.25px;">1.27650</div><div class="t" style="left:1238px;top:184px;font-size:9.5px;letter-spacing:-0.25px;color:#fff">1.33425</div><div class="t" style="left:6px;top:574px;font-size:9.5px;letter-spacing:-0.1px;">4 Sep 2018</div><div class="t" style="left:70px;top:574px;font-size:9.5px;letter-spacing:-0.1px;">13 Sep 2018</div><div class="t" style="left:134px;top:574px;font-size:9.5px;letter-spacing:-0.1px;">22 Sep 2018</div><div class="t" style="left:198px;top:574px;font-size:9.5px;letter-spacing:-0.1px;">2 Oct 2018</div><div class="t" style="left:262px;top:574px;font-size:9.5px;letter-spacing:-0.1px;">11 Oct 2018</div><div class="t" style="left:326px;top:574px;font-size:9.5px;letter-spacing:-0.1px;">20 Oct 2018</div><div class="t" style="left:390px;top:574px;font-size:9.5px;letter-spacing:-0.1px;">30 Oct 2018</div><div class="t" style="left:454px;top:574px;font-size:9.5px;letter-spacing:-0.1px;">8 Nov 2018</div><div class="t" style="left:518px;top:574px;font-size:9.5px;letter-spacing:-0.1px;">17 Nov 2018</div><div class="t" style="left:582px;top:574px;font-size:9.5px;letter-spacing:-0.1px;">27 Nov 2018</div><div class="t" style="left:646px;top:574px;font-size:9.5px;letter-spacing:-0.1px;">6 Dec 2018</div><div class="t" style="left:710px;top:574px;font-size:9.5px;letter-spacing:-0.1px;">15 Dec 2018</div><div class="t" style="left:774px;top:574px;font-size:9.5px;letter-spacing:-0.1px;">25 Dec 2018</div><div class="t" style="left:838px;top:574px;font-size:9.5px;letter-spacing:-0.1px;">3 Jan 2019</div><div class="t" style="left:902px;top:574px;font-size:9.5px;letter-spacing:-0.1px;">12 Jan 2019</div><div class="t" style="left:966px;top:574px;font-size:9.5px;letter-spacing:-0.1px;">22 Jan 2019</div><div class="t" style="left:1236px;top:445px;font-size:9.5px;letter-spacing:-0.1px;">100</div><div class="t" style="left:1236px;top:459px;font-size:9.5px;letter-spacing:-0.1px;">70</div><div class="t" style="left:1236px;top:483px;font-size:9.5px;letter-spacing:-0.1px;">30</div><div class="t" style="left:1236px;top:495px;font-size:9.5px;letter-spacing:-0.1px;">0</div><div class="t" style="left:1236px;top:511px;font-size:9.5px;letter-spacing:-0.1px;">0.010474</div><div class="t" style="left:1236px;top:542px;font-size:9.5px;letter-spacing:-0.1px;">0.00</div><div class="t" style="left:1236px;top:559px;font-size:9.5px;letter-spacing:-0.1px;">-0.006218</div><div class="t" style="left:11px;top:448px;font-size:9.5px;letter-spacing:-0.1px;">RSI(14) 49.7617</div><div class="t" style="left:11px;top:513px;font-size:9.5px;letter-spacing:-0.1px;">MACD(12,26,9) -0.003506 -0.004816</div><div class="t" style="left:22px;top:33px;font-size:9.5px;letter-spacing:0.2px;">USDCAD,Daily</div><div class="t" style="left:94px;top:33px;font-size:9.5px;letter-spacing:-0.15px;">1.33361 1.33578 1.33261 1.33425</div><div style="position:absolute;left:13px;top:37px;width:1px;height:1px;background:#000"></div><div style="position:absolute;left:12px;top:38px;width:3px;height:1px;background:#000"></div><div style="position:absolute;left:11px;top:39px;width:5px;height:1px;background:#000"></div><div style="position:absolute;left:10px;top:40px;width:7px;height:1px;background:#000"></div><div style="position:absolute;left:2px;top:594px;width:1274px;height:1px;background:#000"></div><div style="position:absolute;left:3px;top:595px;width:1273px;height:1px;background:#fff"></div><div style="position:absolute;left:3px;top:595px;width:1px;height:18px;background:#696969"></div><div style="position:absolute;left:0;top:613px;width:1276px;height:1px;background:#fff"></div><div style="position:absolute;left:0;top:614px;width:1276px;height:1px;background:#e3e3e3"></div><div style="position:absolute;left:316px;top:594px;width:103px;height:18px;border-left:1px solid #000;border-right:1px solid #000;border-bottom:1px solid #000;background:#fff"></div><div class="tab" style="left:20px;color:#6a6a6a">EURUSD,Daily</div><div class="tab" style="left:123px;color:#6a6a6a">AUDUSD,Daily</div><div class="tab" style="left:226px;color:#6a6a6a">USDCHF,Daily</div><div class="tab" style="left:328px;color:#000">USDCAD,Daily</div><div class="tab" style="left:430px;color:#6a6a6a">USDCNH,H4</div><div class="tab" style="left:522px;color:#6a6a6a">USDJPY,Daily</div><div class="tab" style="left:619px;color:#6a6a6a">XAUUSD,H4</div><div class="tab" style="left:712px;color:#6a6a6a">GBPUSD,Daily</div><div class="tab" style="left:816px;color:#6a6a6a">SP500,M15</div><div class="tab" style="left:904px;color:#6a6a6a">GBPUSD,Daily</div><div class="tab" style="left:1006px;color:#6a6a6a">DJ30,H4</div><div class="tab" style="left:1074px;color:#6a6a6a">TECH100,H1</div><div class="tab" style="left:1168px;color:#6a6a6a">UKOil,H1</div><div class="sep" style="left:112px"></div><div class="sep" style="left:216px"></div><div class="sep" style="left:608px"></div><div class="sep" style="left:700px"></div><div class="sep" style="left:804px"></div><div class="sep" style="left:892px"></div><div class="sep" style="left:996px"></div><div class="sep" style="left:1064px"></div><div class="sep" style="left:1156px"></div><div class="sep" style="left:1232px"></div><svg style="position:absolute;left:1247px;top:600px" width="26" height="8" shape-rendering="crispEdges"><path d="M4,0 L0,4 L4,8Z" fill="#a0a0a0"/><path d="M20,0 L24,4 L20,8Z" fill="#000"/></svg><div style="position:absolute;left:10px;top:50px;width:52px;height:25px;background:linear-gradient(#5c5cff,#2a2aee);box-sizing:border-box;border:1px solid #0000c0;border-bottom:none"></div>
<div style="position:absolute;left:10px;top:74px;width:109px;height:40px;background:linear-gradient(#2a2ae6,#0000b0);box-sizing:border-box;border:1px solid #0000b0;border-top:none"></div>
<div style="position:absolute;left:14px;top:74px;width:45px;height:1px;background:#9090ff"></div>
<div style="position:absolute;left:62px;top:74px;width:57px;height:1px;background:#0000c0"></div>
<div style="position:absolute;left:177px;top:50px;width:52px;height:25px;background:linear-gradient(#5c5cff,#2a2aee);box-sizing:border-box;border:1px solid #0000c0;border-bottom:none"></div>
<div style="position:absolute;left:121px;top:74px;width:108px;height:40px;background:linear-gradient(#2a2ae6,#0000b0);box-sizing:border-box;border:1px solid #0000b0;border-top:none"></div>
<div style="position:absolute;left:181px;top:74px;width:45px;height:1px;background:#9090ff"></div>
<div style="position:absolute;left:121px;top:74px;width:56px;height:1px;background:#0000c0"></div>
<div style="position:absolute;left:64px;top:50px;width:111px;height:22px;box-sizing:border-box;border:1px solid #ababab;background:#fff"></div>
<div style="position:absolute;left:85px;top:50px;width:1px;height:22px;background:#ababab"></div>
<div style="position:absolute;left:153px;top:50px;width:1px;height:22px;background:#ababab"></div>
<div style="position:absolute;left:66px;top:52px;width:18px;height:18px;background:linear-gradient(#f2f2f2,#e6e6e6 40%,#dadada 45%,#d2d2d2)"></div>
<div style="position:absolute;left:155px;top:52px;width:18px;height:18px;background:linear-gradient(#f2f2f2,#e6e6e6 40%,#dadada 45%,#d2d2d2)"></div>
<svg style="position:absolute;left:72px;top:59px" width="6" height="3"><path d="M0,0 L6,0 L3,3Z" fill="#4a64c8"/></svg>
<svg style="position:absolute;left:161px;top:59px" width="6" height="3"><path d="M0,3 L6,3 L3,0Z" fill="#4a64c8"/></svg>
<div style="position:absolute;left:126px;top:54px;font-size:12px;line-height:14px;color:#000">0.01</div>
<div style="position:absolute;left:22px;top:55px;font-size:11px;line-height:14px;color:#e8e8ff;letter-spacing:0.2px">SELL</div>
<div style="position:absolute;left:190px;top:55px;font-size:11px;line-height:14px;color:#e8e8ff;letter-spacing:0.3px">BUY</div>
<div style="position:absolute;left:30px;top:95px;font-size:12px;font-weight:bold;line-height:13px;color:#fff;letter-spacing:0px">1.33</div>
<div style="position:absolute;left:56px;top:75px;font-size:34px;line-height:35px;color:#fff;letter-spacing:-0.5px">42</div>
<div style="position:absolute;left:98px;top:79px;font-size:12px;font-weight:bold;line-height:13px;color:#fff">5</div>
<div style="position:absolute;left:140px;top:95px;font-size:12px;font-weight:bold;line-height:13px;color:#fff;letter-spacing:0px">1.33</div>
<div style="position:absolute;left:167px;top:75px;font-size:34px;line-height:35px;color:#fff;letter-spacing:-0.5px">44</div>
<div style="position:absolute;left:208px;top:79px;font-size:12px;font-weight:bold;line-height:13px;color:#fff">8</div>
</body></html>
